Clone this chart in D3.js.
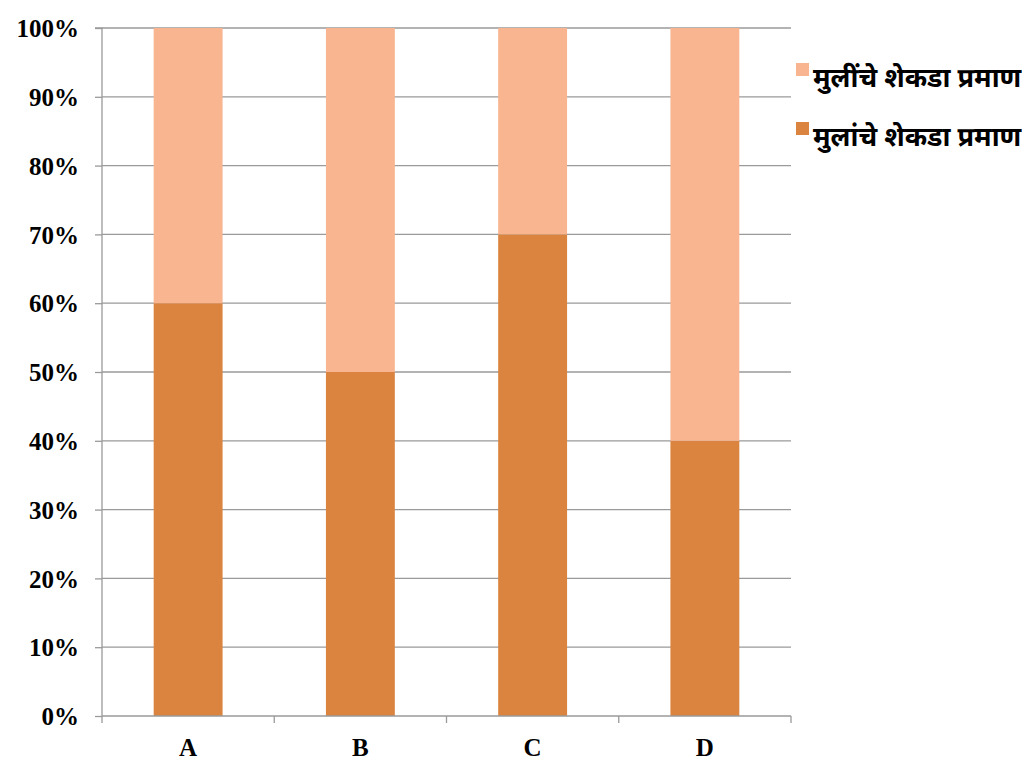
<!DOCTYPE html>
<html>
<head>
<meta charset="utf-8">
<script src="https://cdn.jsdelivr.net/npm/d3@7"></script>
<style>
  html, body { margin: 0; padding: 0; background: #fff; }
  svg { display: block; }
  .ylab, .xlab { font-family: "Liberation Serif", "Times New Roman", serif; font-weight: bold; font-size: 25px; fill: #000; }
  .leg { font-family: "Noto Sans Devanagari", "Noto Sans", "Lohit Devanagari", sans-serif; font-weight: bold; font-size: 27px; fill: #000; }
</style>
</head>
<body>
<script>
// Categories and percentage shares
const categories = ["A", "B", "C", "D"];
const boysPct = [60, 50, 70, 40];
const girlsPct = [40, 50, 30, 60];
const seriesNames = ["मुलींचे शेकडा प्रमाण", "मुलांचे शेकडा प्रमाण"];
const yTicks = [0, 10, 20, 30, 40, 50, 60, 70, 80, 90, 100];

const W = 1022, H = 765;
const margin = { left: 102, right: 231, top: 28, bottom: 49 };
const colBoys = "#DA843F", colGirls = "#F8B590", gridCol = "#9a9a9a";

const svg = d3.select("body").append("svg").attr("width", W).attr("height", H);

const x = d3.scaleBand().domain(categories).range([margin.left, W - margin.right]).paddingInner(0.6).paddingOuter(0.3);
const xOuter = d3.scaleBand().domain(categories).range([margin.left, W - margin.right]);
const y = d3.scaleLinear().domain([0, 100]).range([H - margin.bottom, margin.top]);

// Horizontal gridlines
svg.append("g").selectAll("line").data(yTicks.filter(d => d > 0)).join("line")
  .attr("x1", margin.left).attr("x2", W - margin.right)
  .attr("y1", d => y(d)).attr("y2", d => y(d))
  .attr("stroke", gridCol).attr("stroke-width", 1.3);

// Stacked bars
const rows = categories.map((c, i) => ({ cat: c, boys: boysPct[i], girls: girlsPct[i] }));
const stack = d3.stack().keys(["boys", "girls"])(rows);
const colors = { boys: colBoys, girls: colGirls };
svg.append("g").selectAll("g").data(stack).join("g")
  .attr("fill", d => colors[d.key])
  .selectAll("rect").data(d => d).join("rect")
  .attr("x", d => x(d.data.cat))
  .attr("width", x.bandwidth())
  .attr("y", d => y(d[1]))
  .attr("height", d => y(d[0]) - y(d[1]));

// Y axis
const yAxis = d3.axisLeft(y).tickValues(yTicks).tickSize(7).tickFormat(d => d + "%");
const gy = svg.append("g").attr("transform", `translate(${margin.left},0)`).call(yAxis);
gy.select(".domain").attr("stroke", gridCol).attr("stroke-width", 1.3).attr("d", `M-7,${y(100)}H0V${y(0)}`);
gy.selectAll(".tick line").attr("stroke", gridCol).attr("stroke-width", 1.3);
gy.selectAll(".tick text").attr("class", "ylab").attr("x", -23).attr("dy", "0.35em").attr("fill", "#000");

// X axis with ticks at category boundaries
const gx = svg.append("g").attr("transform", `translate(0,${y(0)})`);
gx.append("line").attr("x1", margin.left).attr("x2", W - margin.right)
  .attr("stroke", gridCol).attr("stroke-width", 1.3);
const bounds = categories.map(c => xOuter(c)).concat([xOuter(categories[categories.length - 1]) + xOuter.bandwidth()]);
gx.selectAll("line.tk").data(bounds).join("line").attr("class", "tk")
  .attr("x1", d => d).attr("x2", d => d).attr("y1", 0).attr("y2", 7)
  .attr("stroke", gridCol).attr("stroke-width", 1.3);
gx.selectAll("text").data(categories).join("text").attr("class", "xlab")
  .attr("x", d => xOuter(d) + xOuter.bandwidth() / 2).attr("y", 40)
  .attr("text-anchor", "middle").text(d => d);

// Legend
const leg = svg.append("g").attr("transform", "translate(796,63)");
const legColors = [colGirls, colBoys];
seriesNames.forEach((name, i) => {
  const g = leg.append("g").attr("transform", `translate(0,${i * 59})`);
  g.append("rect").attr("width", 13).attr("height", 13).attr("fill", legColors[i]);
  g.append("text").attr("class", "leg").attr("x", 17).attr("y", 24).text(name);
});
</script>
</body>
</html>
